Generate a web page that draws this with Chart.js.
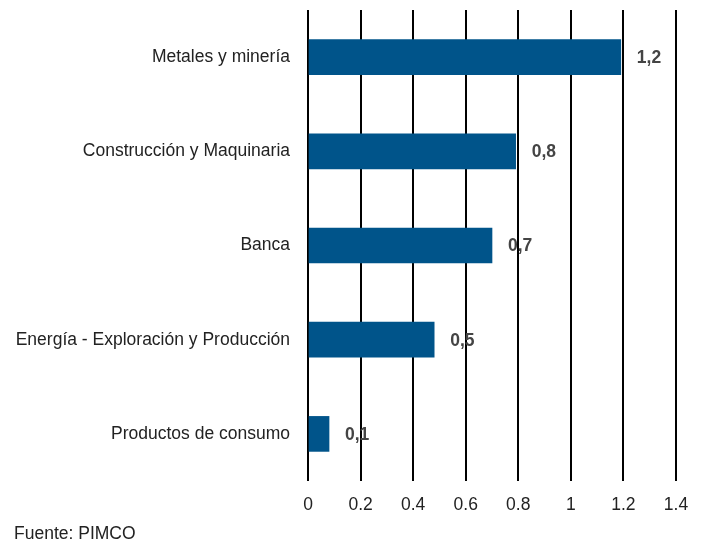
<!DOCTYPE html>
<html>
<head>
<meta charset="utf-8">
<script src="https://cdn.jsdelivr.net/npm/chart.js@4/dist/chart.umd.min.js"></script>
<style>
  body { margin: 0; background: #fff; }
  #wrap { position: relative; width: 707px; height: 542px; }
  #source { position: absolute; left: 14px; top: 523px; font: 17.5px "Liberation Sans Narrow", "Liberation Sans", Arial, sans-serif; color: #222; }
</style>
</head>
<body>
<div id="wrap">
  <canvas id="chart" width="707" height="542"></canvas>
  <div id="source">Fuente: PIMCO</div>
</div>
<script>
const sectors = ['Metales y minería', 'Construcción y Maquinaria', 'Banca', 'Energía - Exploración y Producción', 'Productos de consumo']
const values = [1.19, 0.79, 0.70, 0.48, 0.08]
const valueLabels = ['1,2', '0,8', '0,7', '0,5', '0,1']
const xTicks = [0, 0.2, 0.4, 0.6, 0.8, 1, 1.2, 1.4]

const fontName = '"Liberation Sans Narrow", "Liberation Sans", Arial, sans-serif'

// value labels to the right of each bar
const barLabels = {
  id: 'barLabels',
  afterDatasetsDraw(chart) {
    const ctx = chart.ctx
    const meta = chart.getDatasetMeta(0)
    ctx.save()
    ctx.font = 'bold 17.5px ' + fontName
    ctx.fillStyle = '#444'
    ctx.textBaseline = 'middle'
    meta.data.forEach((bar, i) => {
      ctx.fillText(valueLabels[i], bar.x + 16, bar.y + 1)
    })
    ctx.restore()
  }
}

const ctx = document.getElementById('chart')
new Chart(ctx, {
  type: 'bar',
  data: {
    labels: sectors,
    datasets: [{
      data: values,
      backgroundColor: '#00548a',
      barThickness: 35
    }]
  },
  options: {
    indexAxis: 'y',
    responsive: false,
    animation: false,
    layout: { padding: { top: 10, right: 31, bottom: 12, left: 0 } },
    plugins: { legend: { display: false }, tooltip: { enabled: false } },
    scales: {
      x: {
        min: 0,
        max: 1.4,
        afterBuildTicks(scale) {
          scale.ticks = xTicks.map(v => ({ value: v }))
        },
        afterFit(scale) {
          scale.paddingLeft = 0
          scale.paddingRight = 0
        },
        grid: { color: '#000', lineWidth: 2, drawTicks: false, z: -1 },
        border: { display: false },
        ticks: {
          padding: 14,
          color: '#222',
          font: { family: fontName, size: 17.5 },
          callback: v => String(v)
        }
      },
      y: {
        afterFit(scale) {
          scale.width = 308
          scale.paddingTop = 0
          scale.paddingBottom = 0
        },
        grid: { display: false, drawTicks: false },
        border: { display: false },
        ticks: {
          padding: 18,
          color: '#222',
          font: { family: fontName, size: 17.5 }
        }
      }
    }
  },
  plugins: [barLabels]
})
</script>
</body>
</html>
